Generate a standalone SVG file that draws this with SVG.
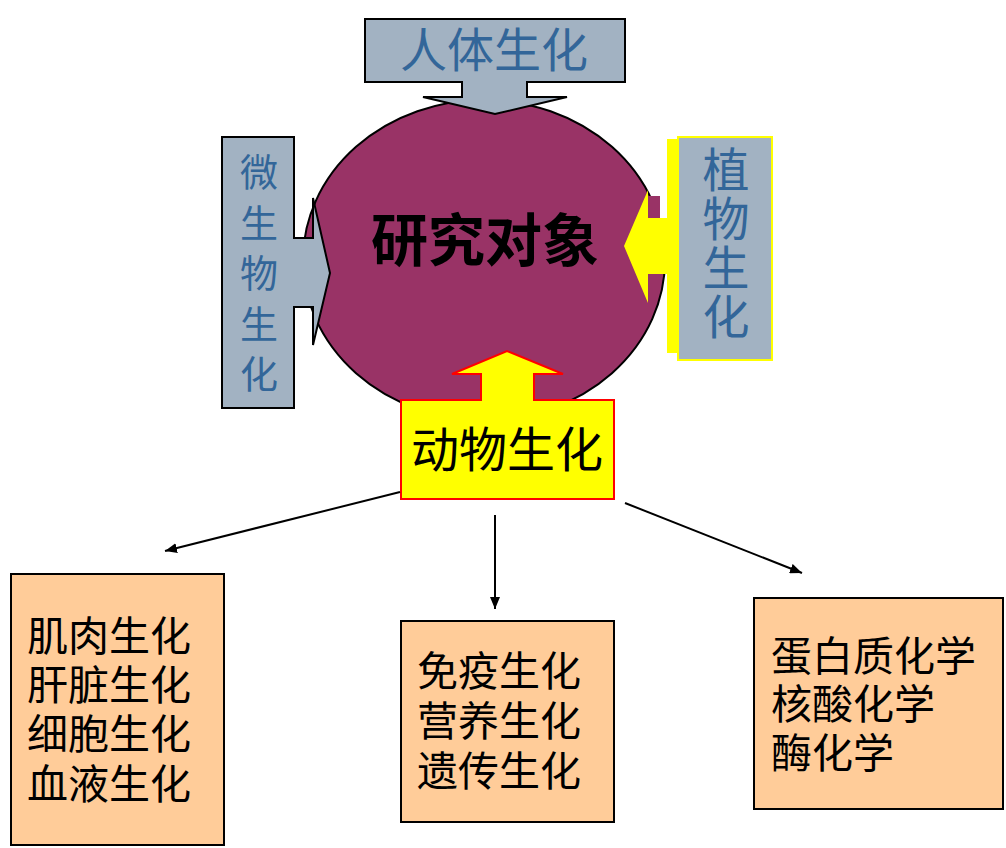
<svg xmlns="http://www.w3.org/2000/svg" width="1006" height="848" viewBox="0 0 1006 848">
<defs>
<style>
.cjk{font-family:"Noto Sans CJK SC","Noto Sans CJK TC",sans-serif;}
.blue{fill:#336699;}
.blk{fill:#000;}
.vert{writing-mode:vertical-rl;}
.gray{fill:#A2B2C2;stroke:#000;stroke-width:2;}
.box{fill:#FFCC99;stroke:#000;stroke-width:2;}
.conn{stroke:#000;stroke-width:2;fill:none;}
</style>
<marker id="ah" viewBox="0 0 12 10" refX="12" refY="5" markerWidth="12" markerHeight="10" markerUnits="userSpaceOnUse" orient="auto">
<path d="M0,0 L12,5 L0,10 Z" fill="#000"/>
</marker>
</defs>
<rect width="1006" height="848" fill="#fff"/>

<g id="center">
<ellipse cx="484" cy="260" rx="181" ry="160" fill="#993366" stroke="#000" stroke-width="2"/>
<text class="cjk blk" x="485" y="261" font-size="57" font-weight="bold" text-anchor="middle">研究对象</text>
</g>

<g id="renti">
<path class="gray" d="M365,19 H625 V82 H527 V97 H567 L495,114 L423,97 H462 V82 H365 Z"/>
<text class="cjk blue" x="494" y="67" font-size="47" text-anchor="middle">人体生化</text>
</g>

<g id="weishengwu">
<path class="gray" d="M222,137 H294 V238 H313 V198 L330,273 L313,345 V307 H294 V408 H222 Z"/>
<text class="cjk blue vert" x="259" y="153" font-size="38" letter-spacing="12.5">微生物生化</text>
</g>

<g id="zhiwu">
<rect x="647" y="196" width="13" height="23" fill="#993366"/>
<rect x="667" y="139" width="12" height="214" fill="#FFFF00"/>
<path d="M679,218 V274 H648 V303 L624,246 L648,190 V218 Z" fill="#FFFF00"/>
<rect x="678" y="137" width="94" height="223" fill="#A2B2C2" stroke="#FFFF00" stroke-width="2"/>
<text class="cjk blue vert" x="726" y="146" font-size="47" letter-spacing="2">植物生化</text>
</g>

<g id="dongwu">
<path d="M401,400 H481 V374 H452 L507,351 L563,374 H534 V400 H614 V499 H401 Z" fill="#FFFF00" stroke="#FF0000" stroke-width="2"/>
<text class="cjk blk" x="507" y="467" font-size="48" text-anchor="middle">动物生化</text>
</g>

<g id="connectors">
<line class="conn" x1="400" y1="492" x2="165" y2="551" marker-end="url(#ah)"/>
<line class="conn" x1="495" y1="515" x2="495" y2="609" marker-end="url(#ah)"/>
<line class="conn" x1="625" y1="503" x2="802" y2="573" marker-end="url(#ah)"/>
</g>

<g id="box-left">
<rect class="box" x="11" y="574" width="213" height="271"/>
<text class="cjk blk" font-size="41"><tspan x="27" y="651">肌肉生化</tspan><tspan x="27" y="700">肝脏生化</tspan><tspan x="27" y="749">细胞生化</tspan><tspan x="27" y="799">血液生化</tspan></text>
</g>

<g id="box-mid">
<rect class="box" x="401" y="621" width="213" height="201"/>
<text class="cjk blk" font-size="41"><tspan x="417" y="686">免疫生化</tspan><tspan x="417" y="736">营养生化</tspan><tspan x="417" y="786">遗传生化</tspan></text>
</g>

<g id="box-right">
<rect class="box" x="754" y="598" width="249" height="211"/>
<text class="cjk blk" font-size="41"><tspan x="771" y="671">蛋白质化学</tspan><tspan x="771" y="719">核酸化学</tspan><tspan x="771" y="768">酶化学</tspan></text>
</g>
</svg>
